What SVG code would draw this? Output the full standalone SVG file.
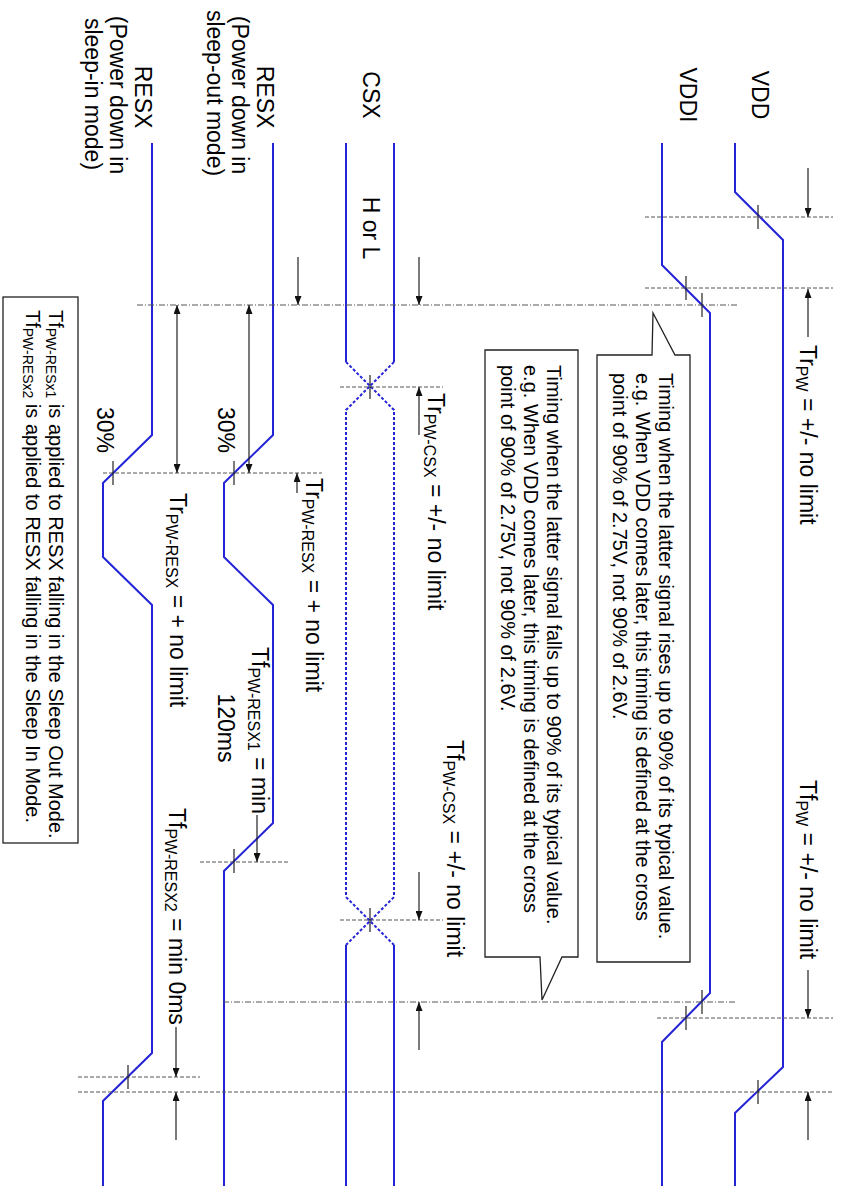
<svg xmlns="http://www.w3.org/2000/svg" width="841" height="1190" viewBox="0 0 841 1190">
<defs>
<style>
.sig{fill:none;stroke:#2424d6;stroke-width:2}
.sigd{fill:none;stroke:#2424d6;stroke-width:2;stroke-dasharray:3 2}
.tick{stroke:#222;stroke-width:1.2}
.dash{stroke:#555;stroke-width:1;stroke-dasharray:4 2}
.dd{stroke:#555;stroke-width:1;stroke-dasharray:6 2 1 2}
.arr{stroke:#222;stroke-width:1.2;fill:none;marker-end:url(#ah)}
.arr2{stroke:#222;stroke-width:1.2;fill:none;marker-end:url(#ah);marker-start:url(#ahs)}
text{font-family:"Liberation Sans",Arial,sans-serif;fill:#000}
.lbl{font-size:23px}
.ann{font-size:23px}
.sub{font-size:16px}
.note{font-size:20px}
.nsub{font-size:14px}
.box{fill:#fff;stroke:#222;stroke-width:1.3}
</style>
<marker id="ah" viewBox="0 0 9 7" refX="9" refY="3.5" markerWidth="9" markerHeight="7" markerUnits="userSpaceOnUse" orient="auto"><path d="M0,0 L9,3.5 L0,7 Z" fill="#111"/></marker>
<marker id="ahs" viewBox="0 0 9 7" refX="9" refY="3.5" markerWidth="9" markerHeight="7" markerUnits="userSpaceOnUse" orient="auto-start-reverse"><path d="M0,0 L9,3.5 L0,7 Z" fill="#111"/></marker>
</defs>

<g id="signal-VDD">
<text class="lbl" text-anchor="middle" transform="translate(752,95) rotate(90)">VDD</text>
<path class="sig" d="M735,143 V192 L783,240 V1067 L735,1113 V1186"/>
</g>
<g id="signal-VDDI">
<text class="lbl" text-anchor="middle" transform="translate(680,95) rotate(90)">VDDI</text>
<path class="sig" d="M662,143 V265 L710,313 V993 L662,1042 V1186"/>
</g>
<g id="signal-CSX">
<text class="lbl" text-anchor="middle" transform="translate(363,95) rotate(90)">CSX</text>
<path class="sig" d="M346,143 V362 M394,143 V362 M346,945 V1186 M394,945 V1186"/>
<path class="sigd" d="M346,362 L394,410 V897 L346,945 M394,362 L346,410 V897 L394,945"/>
<text class="lbl" text-anchor="middle" transform="translate(363,228) rotate(90)">H or L</text>
</g>
<g id="signal-RESX-sleep-out">
<text class="lbl" text-anchor="middle" transform="translate(257,97) rotate(90)">RESX</text>
<text class="lbl" text-anchor="middle" transform="translate(232,95) rotate(90)">(Power down in</text>
<text class="lbl" text-anchor="middle" transform="translate(207,93) rotate(90)">sleep-out mode)</text>
<path class="sig" d="M273,143 V435 L224,483 V557 L273,605 V823 L224,871 V1186"/>
<text class="ann" text-anchor="end" transform="translate(218,453) rotate(90)">30%</text>
</g>
<g id="signal-RESX-sleep-in">
<text class="lbl" text-anchor="middle" transform="translate(135,97) rotate(90)">RESX</text>
<text class="lbl" text-anchor="middle" transform="translate(110,95) rotate(90)">(Power down in</text>
<text class="lbl" text-anchor="middle" transform="translate(85,94) rotate(90)">sleep-in mode)</text>
<path class="sig" d="M152,143 V435 L103,483 V557 L152,605 V1053 L103,1101 V1186"/>
<text class="ann" text-anchor="end" transform="translate(97,453) rotate(90)">30%</text>
</g>

<g id="connectors">
<line class="dash" x1="645" y1="217" x2="833" y2="217"/>
<line class="dash" x1="645" y1="288" x2="833" y2="288"/>
<line class="dd" x1="137" y1="305" x2="737" y2="305"/>
<line class="dash" x1="340" y1="387" x2="443" y2="387"/>
<line class="dash" x1="103" y1="473" x2="322" y2="473"/>
<line class="dash" x1="200" y1="862" x2="288" y2="862"/>
<line class="dash" x1="340" y1="920" x2="443" y2="920"/>
<line class="dd" x1="223" y1="1002" x2="737" y2="1002"/>
<line class="dash" x1="657" y1="1018" x2="833" y2="1018"/>
<line class="dash" x1="78" y1="1077" x2="200" y2="1077"/>
<line class="dash" x1="78" y1="1092" x2="833" y2="1092"/>

<line class="tick" x1="758" y1="205" x2="758" y2="229"/>
<line class="tick" x1="686" y1="276" x2="686" y2="300"/>
<line class="tick" x1="702" y1="293" x2="702" y2="317"/>
<line class="tick" x1="370" y1="375" x2="370" y2="399"/>
<line class="tick" x1="370" y1="908" x2="370" y2="932"/>
<line class="tick" x1="702" y1="990" x2="702" y2="1014"/>
<line class="tick" x1="686" y1="1006" x2="686" y2="1030"/>
<line class="tick" x1="758" y1="1080" x2="758" y2="1104"/>
<line class="tick" x1="234" y1="461" x2="234" y2="485"/>
<line class="tick" x1="113" y1="461" x2="113" y2="485"/>
<line class="tick" x1="234" y1="849" x2="234" y2="873"/>
<line class="tick" x1="128" y1="1065" x2="128" y2="1089"/>

<line class="arr" x1="808" y1="168" x2="808" y2="217"/>
<line class="arr" x1="808" y1="337" x2="808" y2="289"/>
<line class="arr" x1="808" y1="970" x2="808" y2="1018"/>
<line class="arr" x1="808" y1="1140" x2="808" y2="1092"/>
<line class="arr" x1="419" y1="257" x2="419" y2="305"/>
<line class="arr" x1="419" y1="435" x2="419" y2="387"/>
<line class="arr" x1="419" y1="872" x2="419" y2="920"/>
<line class="arr" x1="419" y1="1050" x2="419" y2="1002"/>
<line class="arr" x1="298" y1="257" x2="298" y2="305"/>
<line class="arr" x1="297" y1="493" x2="297" y2="473"/>
<line class="arr2" x1="177" y1="305" x2="177" y2="473"/>
<line class="arr2" x1="249" y1="305" x2="249" y2="473"/>
<line class="arr" x1="257" y1="815" x2="257" y2="862"/>
<line class="arr" x1="176" y1="1027" x2="176" y2="1077"/>
<line class="arr" x1="176" y1="1140" x2="176" y2="1092"/>
</g>

<g id="timing-labels">
<text class="ann" transform="translate(800,345) rotate(90)">Tr<tspan class="sub" dy="4">PW</tspan><tspan dy="-4"> = +/- no limit</tspan></text>
<text class="ann" transform="translate(800,780) rotate(90)">Tf<tspan class="sub" dy="4">PW</tspan><tspan dy="-4"> = +/- no limit</tspan></text>
<text class="ann" transform="translate(428,393) rotate(90)">Tr<tspan class="sub" dy="4">PW-CSX</tspan><tspan dy="-4"> = +/- no limit</tspan></text>
<text class="ann" transform="translate(447,740) rotate(90)">Tf<tspan class="sub" dy="4">PW-CSX</tspan><tspan dy="-4"> = +/- no limit</tspan></text>
<text class="ann" transform="translate(306,478) rotate(90)">Tr<tspan class="sub" dy="4">PW-RESX</tspan><tspan dy="-4"> = + no limit</tspan></text>
<text class="ann" transform="translate(170,493) rotate(90)">Tr<tspan class="sub" dy="4">PW-RESX</tspan><tspan dy="-4"> = + no limit</tspan></text>
<text class="ann" transform="translate(252,647) rotate(90)">Tf<tspan class="sub" dy="4">PW-RESX1</tspan><tspan dy="-4"> = min</tspan></text>
<text class="ann" text-anchor="middle" transform="translate(218,728) rotate(90)">120ms</text>
<text class="ann" transform="translate(169,808) rotate(90)">Tf<tspan class="sub" dy="4">PW-RESX2</tspan><tspan dy="-4"> = min 0ms</tspan></text>
</g>

<g id="callout-rise">
<path class="box" d="M597,355 H652 L653,313 L675,355 H690 V962 H597 Z"/>
<text class="note" transform="translate(659,373) rotate(90)">Timing when the latter signal rises up to 90% of its typical value.</text>
<text class="note" transform="translate(636,373) rotate(90)">e.g. When VDD comes later, this timing is defined at the cross</text>
<text class="note" transform="translate(613,373) rotate(90)">point of 90% of 2.75V, not 90% of 2.6V.</text>
</g>
<g id="callout-fall">
<path class="box" d="M485,350 H578 V957 H562 L542,1000 L540,957 H485 Z"/>
<text class="note" transform="translate(547,365) rotate(90)">Timing when the latter signal falls up to 90% of its typical value.</text>
<text class="note" transform="translate(524,365) rotate(90)">e.g. When VDD comes later, this timing is defined at the cross</text>
<text class="note" transform="translate(501,365) rotate(90)">point of 90% of 2.75V, not 90% of 2.6V.</text>
</g>
<g id="note-box">
<rect class="box" x="3" y="297" width="75" height="546"/>
<text class="note" transform="translate(49,310) rotate(90)">Tf<tspan class="nsub" dy="3">PW-RESx1</tspan><tspan dy="-3"> is applied to RESX falling in the Sleep Out Mode.</tspan></text>
<text class="note" transform="translate(26,310) rotate(90)">Tf<tspan class="nsub" dy="3">PW-RESx2</tspan><tspan dy="-3"> is applied to RESX falling in the Sleep In Mode.</tspan></text>
</g>
</svg>
